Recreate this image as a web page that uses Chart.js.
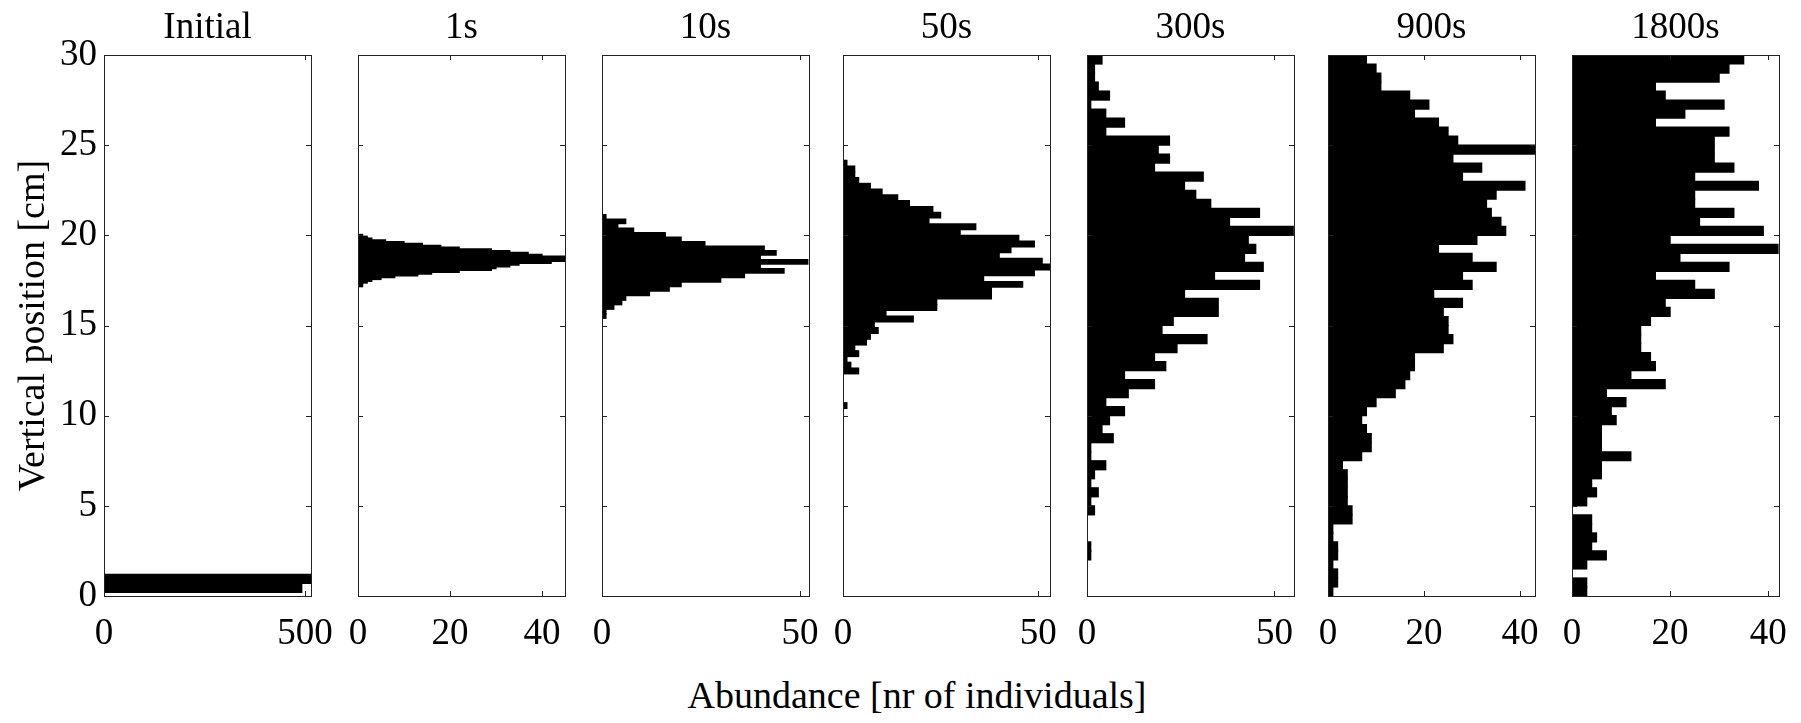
<!DOCTYPE html>
<html>
<head>
<meta charset="utf-8">
<script src="https://cdn.jsdelivr.net/npm/chart.js@4.4.1/dist/chart.umd.min.js"></script>
<style>
  html, body { margin: 0; padding: 0; background: #fff; }
  #wrap { position: relative; width: 1801px; height: 723px; overflow: hidden; }
  #wrap canvas { position: absolute; top: 0; }
  #xlabel {
    position: absolute; left: 0; width: 1834px; top: 672px;
    text-align: center; font: 38px "Liberation Serif", serif; line-height: 46px; color: #000;
  }
</style>
</head>
<body>
<div id="wrap">
  <div id="xlabel">Abundance [nr of individuals]</div>
</div>
<script>
// Panel titles, axis limits and tick labels
const titles = ['Initial', '1s', '10s', '50s', '300s', '900s', '1800s'];
const xMax = [515, 45, 52.3, 53, 55.2, 43.1, 42.2];
const xTicks = [[0, 500], [0, 20, 40], [0, 50], [0, 50], [0, 50], [0, 20, 40], [0, 20, 40]];
const yTicks = [0, 5, 10, 15, 20, 25, 30];

// Histogram bins: upper edge of the top bin and bin height, in cm
const binTop = [1.2, 20.05, 21.15, 24.16, 30, 30, 30];
const binWidth = [0.5, 0.1, 0.25, 0.32, 0.5, 0.5, 0.5];

// Counts per bin, listed from the top bin down
const countsInitial = [515, 492];
const counts1s = [1, 2, 3, 6, 10, 14, 18, 22, 29, 33, 37, 40, 45, 45, 45, 42, 35, 33, 30, 29,
  22, 16, 13, 8, 5, 3, 2, 1, 1];
const counts10s = [1, 6, 4, 8, 16, 20, 26, 41, 44, 40, 52, 40, 46, 36, 30, 20, 17, 12, 6, 5, 3, 1, 1];
const counts50s = [1, 3, 3, 4, 7, 10, 14, 17, 23, 25, 22, 34, 30, 45, 49, 43, 40, 51, 53, 49,
  36, 46, 38, 38, 24, 24, 11, 18, 8, 9, 7, 6, 3, 4, 1, 2, 4, 0, 0, 0, 0, 0, 1];
const counts300s = [4, 2, 2, 3, 6, 1, 5, 10, 5, 22, 19, 22, 18, 31, 26, 29, 33, 46, 38, 55,
  43, 45, 42, 47, 34, 46, 26, 35, 35, 23, 20, 32, 24, 18, 21, 10, 18, 11, 5, 10,
  6, 4, 7, 1, 1, 5, 2, 1, 3, 1, 2, 0, 0, 0, 1, 1, 0, 0, 0, 0];
const counts900s = [8, 10, 11, 11, 17, 21, 18, 23, 25, 27, 43, 26, 32, 28, 41, 35, 33, 34, 36, 37,
  31, 23, 30, 35, 28, 30, 22, 28, 24, 25, 25, 26, 24, 18, 18, 17, 16, 14, 10, 8,
  7, 8, 9, 9, 7, 3, 4, 4, 4, 4, 5, 5, 1, 1, 2, 2, 1, 2, 2, 1];
const counts1800s = [35, 32, 30, 17, 19, 31, 23, 17, 32, 29, 29, 29, 33, 25, 38, 25, 25, 33, 26, 39,
  20, 42, 22, 32, 17, 25, 29, 19, 20, 16, 14, 14, 14, 16, 17, 12, 19, 7, 11, 8,
  9, 6, 6, 6, 12, 6, 6, 4, 5, 3, 0, 4, 4, 5, 4, 7, 3, 0, 3, 3];

const allCounts = [countsInitial, counts1s, counts10s, counts50s, counts300s, counts900s, counts1800s];

// layout of the seven axes boxes (page pixels)
const panelLeft = [104, 358, 602, 843, 1087, 1328, 1572];
const panelWidth = 207;
const serif = "'Liberation Serif', 'Times New Roman', serif";

// draws the box round each axes plus small inward ticks, MATLAB style
const framePlugin = {
  id: 'frame',
  afterDatasetsDraw(chart) {
    const { ctx, chartArea: a, scales: { x, y } } = chart;
    const len = 5;
    ctx.save();
    ctx.strokeStyle = '#222';
    ctx.lineWidth = 1;
    ctx.strokeRect(Math.round(a.left) + 0.5, Math.round(a.top) + 0.5,
      Math.round(a.right) - Math.round(a.left), Math.round(a.bottom) - Math.round(a.top));
    ctx.beginPath();
    x.ticks.forEach(t => {
      const px = Math.round(x.getPixelForValue(t.value)) + 0.5;
      ctx.moveTo(px, a.bottom); ctx.lineTo(px, a.bottom - len);
      ctx.moveTo(px, a.top); ctx.lineTo(px, a.top + len);
    });
    y.ticks.forEach(t => {
      const py = Math.round(y.getPixelForValue(t.value)) + 0.5;
      ctx.moveTo(a.left, py); ctx.lineTo(a.left + len, py);
      ctx.moveTo(a.right, py); ctx.lineTo(a.right - len, py);
    });
    ctx.stroke();
    ctx.restore();
  }
};

const wrap = document.getElementById('wrap');

titles.forEach((title, i) => {
  const padL = i === 0 ? panelLeft[0] : 40;
  const padR = 52;
  const canvas = document.createElement('canvas');
  canvas.width = padL + panelWidth + padR;
  canvas.height = 723;
  canvas.style.left = (panelLeft[i] - padL) + 'px';
  wrap.appendChild(canvas);

  const points = allCounts[i].map((c, k) => ({ x: c, y: binTop[i] - (k + 0.5) * binWidth[i] }));

  new Chart(canvas, {
    type: 'bar',
    data: {
      datasets: [{
        data: points,
        backgroundColor: '#000',
        borderWidth: 0,
        inflateAmount: 0.6,
        barPercentage: 1,
        categoryPercentage: 1
      }]
    },
    options: {
      indexAxis: 'y',
      responsive: false,
      animation: false,
      layout: { padding: { left: 0, right: padR, top: 0, bottom: 0 } },
      plugins: {
        legend: { display: false },
        tooltip: { enabled: false },
        title: {
          display: true,
          text: title,
          fullSize: false,
          color: '#000',
          font: { family: serif, size: 37, weight: 'normal', lineHeight: 1.2 },
          padding: { top: 6, bottom: 4.6 }
        }
      },
      scales: {
        x: {
          type: 'linear',
          min: 0,
          max: xMax[i],
          afterBuildTicks: s => { s.ticks = xTicks[i].map(v => ({ value: v })); },
          afterFit: s => { s.height = 127; },
          grid: { display: false, drawTicks: false },
          border: { display: false },
          ticks: { padding: 16, color: '#000', autoSkip: false, maxRotation: 0,
            font: { family: serif, size: 37, lineHeight: 1.2 } }
        },
        y: {
          type: 'linear',
          offset: false,
          min: 0,
          max: 30,
          afterBuildTicks: s => { s.ticks = yTicks.map(v => ({ value: v })); },
          afterFit: s => { s.width = padL; },
          grid: { display: false, drawTicks: false },
          border: { display: false },
          ticks: { display: i === 0, padding: 7, color: '#000',
            font: { family: serif, size: 37, lineHeight: 1.2 } },
          title: {
            display: i === 0,
            text: 'Vertical position [cm]',
            color: '#000',
            font: { family: serif, size: 38, lineHeight: 1.2 },
            padding: { top: 11, bottom: 0 }
          }
        }
      }
    },
    plugins: [framePlugin]
  });
});
</script>
</body>
</html>
